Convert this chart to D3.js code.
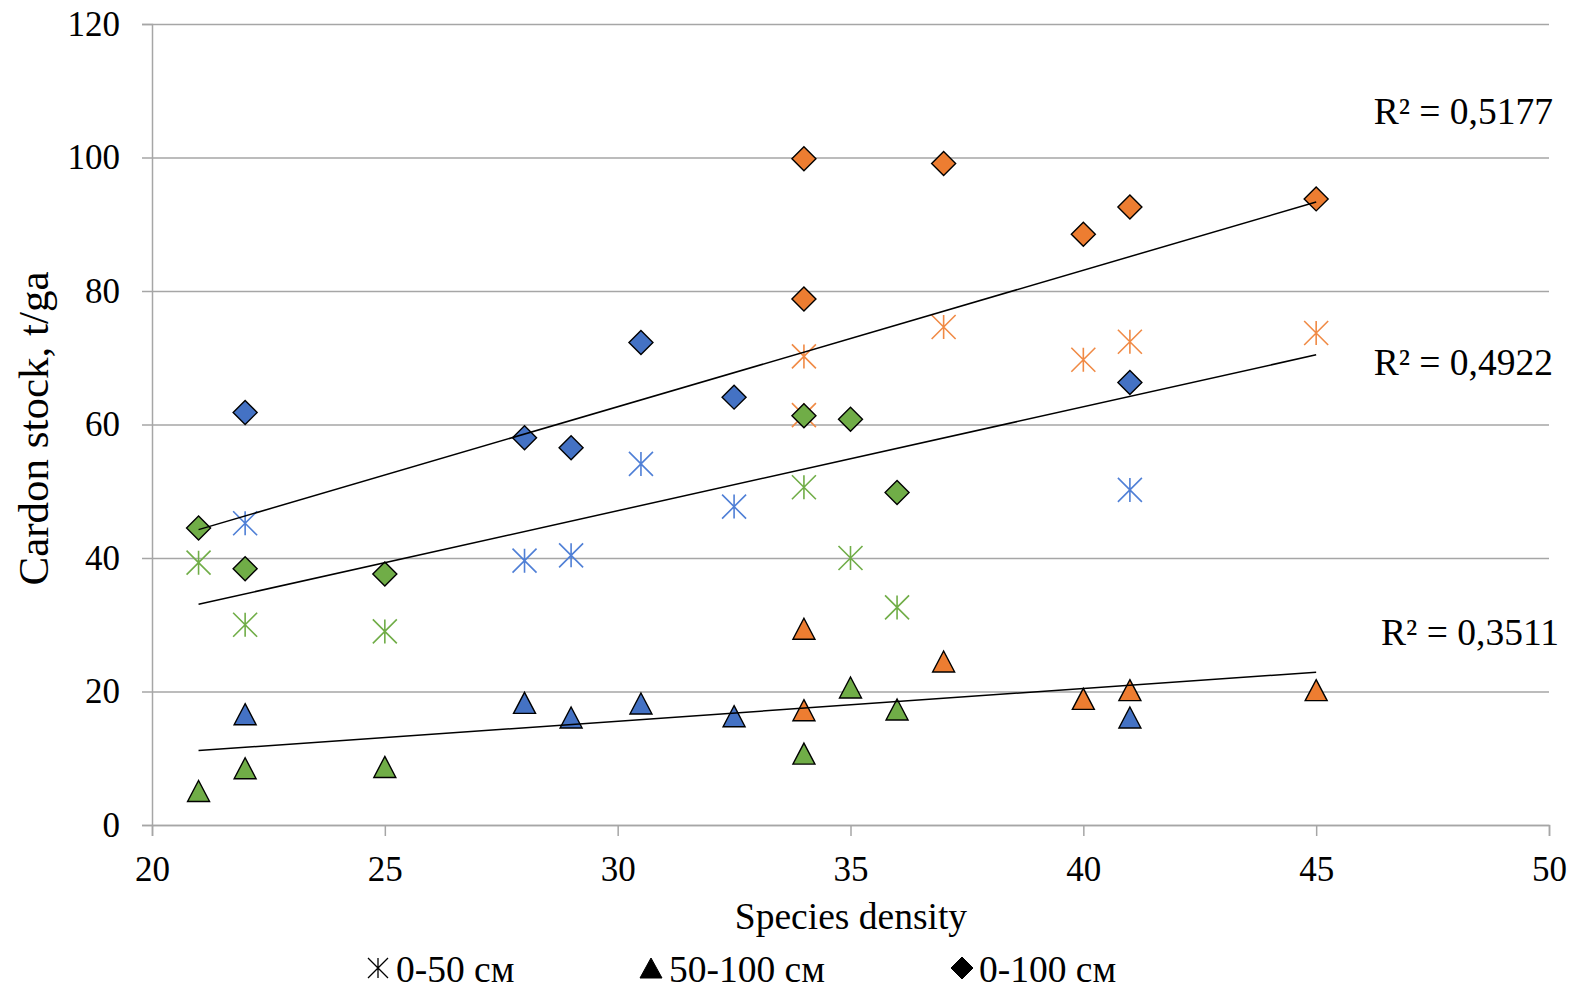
<!DOCTYPE html>
<html>
<head>
<meta charset="utf-8">
<script src="https://cdn.jsdelivr.net/npm/d3@7/dist/d3.min.js"></script>
<style>
  html, body { margin: 0; padding: 0; background: #fff; }
  text { font-family: "Liberation Serif", "Times New Roman", serif; fill: #000; }
</style>
</head>
<body>
<svg id="chart" width="1573" height="991"></svg>
<script>
// ---- Data ----
const xGreen  = [21, 22, 25, 34, 35, 36];
const xBlue   = [22, 28, 29, 30.5, 32.5, 41];
const xOrange = [34, 34, 37, 40, 41, 45];

// 0-50 cm (asterisk)
const d050Green  = [39.3, 30.0, 29.0, 50.6, 40.0, 32.6];
const d050Blue   = [45.2, 39.6, 40.4, 54.1, 47.7, 50.2];
const d050Orange = [70.2, 61.4, 74.6, 69.7, 72.4, 73.7];
// 50-100 cm (triangle)
const d50100Green  = [5.1, 8.5, 8.7, 10.7, 20.6, 17.3];
const d50100Blue   = [16.6, 18.3, 16.1, 18.2, 16.3, 16.1];
const d50100Orange = [29.4, 17.2, 24.5, 18.9, 20.2, 20.2];
// 0-100 cm (diamond)
const d0100Green  = [44.5, 38.4, 37.6, 61.3, 60.8, 49.8];
const d0100Blue   = [61.8, 58.0, 56.5, 72.3, 64.1, 66.3];
const d0100Orange = [99.8, 78.8, 99.1, 88.5, 92.6, 93.8];

const xTicks = [20, 25, 30, 35, 40, 45, 50];
const yTicks = [0, 20, 40, 60, 80, 100, 120];
const legendLabels = ["0-50 см", "50-100 см", "0-100 см"];
const r2Labels = ["R² = 0,5177", "R² = 0,4922", "R² = 0,3511"];
const xTitle = "Species density";
const yTitle = "Cardon stock, t/ga";

// ---- Setup ----
const svg = d3.select("#chart");
const L = 152, R = 1549, T = 24, B = 825;
const x = d3.scaleLinear().domain([20, 50]).range([L, R]);
const y = d3.scaleLinear().domain([0, 120]).range([B, T]);

const colors = { green: "#70AD47", blue: "#4472C4", orange: "#ED7D31" };
const starColors = { green: "#70AD47", blue: "#4F7FD6", orange: "#F08A45" };
const gridColor = "#A6A6A6";

// Gridlines
svg.append("g")
  .attr("transform", `translate(${L},0)`)
  .call(d3.axisLeft(y).tickValues(yTicks).tickSize(-(R - L)).tickFormat(""))
  .call(g => g.select(".domain").remove())
  .call(g => g.selectAll("line").attr("stroke", gridColor).attr("stroke-width", 1.5));

// Y axis
const yAxis = svg.append("g")
  .attr("transform", `translate(${L},0)`)
  .call(d3.axisLeft(y).tickValues(yTicks).tickSize(10).tickPadding(22).tickFormat(d3.format("d")));
yAxis.select(".domain").attr("stroke", gridColor).attr("stroke-width", 1.5);
yAxis.selectAll(".tick line").attr("stroke", gridColor).attr("stroke-width", 1.5);
yAxis.selectAll(".tick text").attr("font-size", 35).attr("font-family", "Liberation Serif").attr("fill", "#000");

// X axis
const xAxis = svg.append("g")
  .attr("transform", `translate(0,${B})`)
  .call(d3.axisBottom(x).tickValues(xTicks).tickSize(11).tickPadding(20).tickFormat(d3.format("d")));
xAxis.select(".domain").attr("stroke", gridColor).attr("stroke-width", 1.5);
xAxis.selectAll(".tick line").attr("stroke", gridColor).attr("stroke-width", 1.5);
xAxis.selectAll(".tick text").attr("font-size", 35).attr("font-family", "Liberation Serif").attr("fill", "#000");

// Axis titles
svg.append("text").attr("x", 851).attr("y", 929)
  .attr("text-anchor", "middle").attr("font-size", 37.5).text(xTitle);
svg.append("text")
  .attr("transform", `translate(48,${(T + B) / 2 + 4}) rotate(-90)`)
  .attr("text-anchor", "middle").attr("font-size", 43).text(yTitle);

// ---- Marker shapes ----
const starPath = s => `M0,${-s}V${s}M${-s},${-s}L${s},${s}M${s},${-s}L${-s},${s}`;
const triPath = (w, h) => `M0,${-h / 2}L${w / 2},${h / 2}L${-w / 2},${h / 2}Z`;
const diaPath = s => `M0,${-s}L${s},0L0,${s}L${-s},0Z`;

function pts(xs, ys) { return xs.map((v, i) => ({ x: v, y: ys[i] })); }

const groups = [
  { key: "blue", xs: xBlue }, { key: "orange", xs: xOrange }, { key: "green", xs: xGreen }
];
const starSeries = [pts(xBlue, d050Blue), pts(xOrange, d050Orange), pts(xGreen, d050Green)];
const triSeries = [pts(xBlue, d50100Blue), pts(xOrange, d50100Orange), pts(xGreen, d50100Green)];
const diaSeries = [pts(xBlue, d0100Blue), pts(xOrange, d0100Orange), pts(xGreen, d0100Green)];

const marks = svg.append("g");
// asterisks
starSeries.forEach((ser, gi) => {
  marks.append("g").selectAll("path").data(ser).join("path")
    .attr("transform", d => `translate(${x(d.x)},${y(d.y)})`)
    .attr("d", starPath(12))
    .attr("fill", "none").attr("stroke", starColors[groups[gi].key]).attr("stroke-width", 1.6);
});
// triangles
triSeries.forEach((ser, gi) => {
  marks.append("g").selectAll("path").data(ser).join("path")
    .attr("transform", d => `translate(${x(d.x)},${y(d.y)})`)
    .attr("d", triPath(22, 21))
    .attr("fill", colors[groups[gi].key]).attr("stroke", "#000").attr("stroke-width", 1.4)
    .attr("stroke-linejoin", "miter");
});
// diamonds
diaSeries.forEach((ser, gi) => {
  marks.append("g").selectAll("path").data(ser).join("path")
    .attr("transform", d => `translate(${x(d.x)},${y(d.y)})`)
    .attr("d", diaPath(12))
    .attr("fill", colors[groups[gi].key]).attr("stroke", "#000").attr("stroke-width", 1.4);
});

// ---- Trendlines (least squares on all points of each depth) ----
function trend(series) {
  const all = series.flat();
  const mx = d3.mean(all, d => d.x), my = d3.mean(all, d => d.y);
  const sxy = d3.sum(all, d => (d.x - mx) * (d.y - my));
  const sxx = d3.sum(all, d => (d.x - mx) ** 2);
  const b = sxy / sxx, a = my - b * mx;
  const [x0, x1] = d3.extent(all, d => d.x);
  return [{ x: x0, y: a + b * x0 }, { x: x1, y: a + b * x1 }];
}
const line = d3.line().x(d => x(d.x)).y(d => y(d.y));
[diaSeries, starSeries, triSeries].forEach(s => {
  svg.append("path").attr("d", line(trend(s)))
    .attr("fill", "none").attr("stroke", "#000").attr("stroke-width", 1.5);
});

// R² labels
const r2Pos = [[1553, 124], [1553, 375], [1559, 645]];
r2Labels.forEach((t, i) => {
  svg.append("text").attr("x", r2Pos[i][0]).attr("y", r2Pos[i][1])
    .attr("text-anchor", "end").attr("font-size", 37.5).text(t);
});

// ---- Legend ----
const legY = 968;
const legItems = [
  { mx: 378, tx: 396, d: starPath(10), fill: "none", stroke: "#000", sw: 1.3 },
  { mx: 651, tx: 669, d: triPath(22, 20), fill: "#000", stroke: "#000", sw: 1 },
  { mx: 962, tx: 979, d: diaPath(11), fill: "#000", stroke: "#000", sw: 1 }
];
legItems.forEach((it, i) => {
  svg.append("path").attr("transform", `translate(${it.mx},${legY})`)
    .attr("d", it.d).attr("fill", it.fill).attr("stroke", it.stroke).attr("stroke-width", it.sw);
  svg.append("text").attr("x", it.tx).attr("y", legY + 14)
    .attr("font-size", 37.5).text(legendLabels[i]);
});
</script>
</body>
</html>
